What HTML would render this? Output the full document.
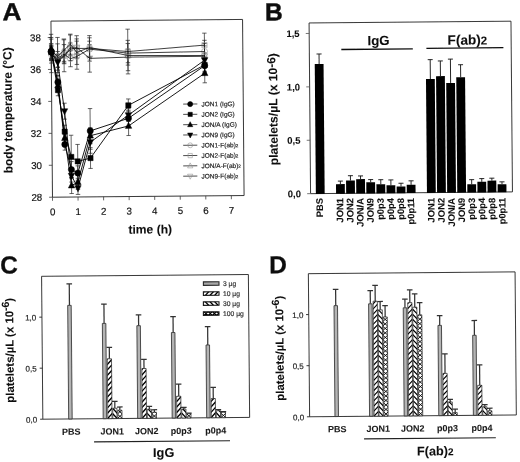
<!DOCTYPE html>
<html><head><meta charset="utf-8"><title>Figure</title>
<style>
html,body{margin:0;padding:0;background:#fff;}
body{width:520px;height:462px;overflow:hidden;}
svg{display:block;font-family:"Liberation Sans", sans-serif;}
</style></head>
<body>
<svg width="520" height="462" viewBox="0 0 520 462">
<rect x="0" y="0" width="520" height="462" fill="#fff"/>
<defs><filter id="soft" x="0" y="0" width="520" height="462" filterUnits="userSpaceOnUse"><feGaussianBlur stdDeviation="0.32"/></filter></defs>
<g filter="url(#soft)"><g transform="rotate(-0.5 260 231)">
<rect x="52.8" y="19.3" width="191.6" height="176.1" fill="none" stroke="#222" stroke-width="0.9"/>
<line x1="49.4" y1="195.4" x2="52.8" y2="195.4" stroke="#333" stroke-width="0.75" />
<text x="42.6" y="198.9" font-size="9.8" text-anchor="end" fill="#111"  stroke="#111" stroke-width="0.18">28</text>
<line x1="49.4" y1="163.46" x2="52.8" y2="163.46" stroke="#333" stroke-width="0.75" />
<text x="42.6" y="166.96" font-size="9.8" text-anchor="end" fill="#111"  stroke="#111" stroke-width="0.18">30</text>
<line x1="49.4" y1="131.52" x2="52.8" y2="131.52" stroke="#333" stroke-width="0.75" />
<text x="42.6" y="135.02" font-size="9.8" text-anchor="end" fill="#111"  stroke="#111" stroke-width="0.18">32</text>
<line x1="49.4" y1="99.58" x2="52.8" y2="99.58" stroke="#333" stroke-width="0.75" />
<text x="42.6" y="103.08" font-size="9.8" text-anchor="end" fill="#111"  stroke="#111" stroke-width="0.18">34</text>
<line x1="49.4" y1="67.64" x2="52.8" y2="67.64" stroke="#333" stroke-width="0.75" />
<text x="42.6" y="71.14" font-size="9.8" text-anchor="end" fill="#111"  stroke="#111" stroke-width="0.18">36</text>
<line x1="49.4" y1="35.7" x2="52.8" y2="35.7" stroke="#333" stroke-width="0.75" />
<text x="42.6" y="39.2" font-size="9.8" text-anchor="end" fill="#111"  stroke="#111" stroke-width="0.18">38</text>
<line x1="52.8" y1="195.4" x2="52.8" y2="199" stroke="#333" stroke-width="0.75" />
<text x="52.8" y="213.4" font-size="9.8" text-anchor="middle" fill="#111"  stroke="#111" stroke-width="0.18">0</text>
<line x1="78.35" y1="195.4" x2="78.35" y2="199" stroke="#333" stroke-width="0.75" />
<text x="78.35" y="213.4" font-size="9.8" text-anchor="middle" fill="#111"  stroke="#111" stroke-width="0.18">1</text>
<line x1="103.9" y1="195.4" x2="103.9" y2="199" stroke="#333" stroke-width="0.75" />
<text x="103.9" y="213.4" font-size="9.8" text-anchor="middle" fill="#111"  stroke="#111" stroke-width="0.18">2</text>
<line x1="129.45" y1="195.4" x2="129.45" y2="199" stroke="#333" stroke-width="0.75" />
<text x="129.45" y="213.4" font-size="9.8" text-anchor="middle" fill="#111"  stroke="#111" stroke-width="0.18">3</text>
<line x1="155" y1="195.4" x2="155" y2="199" stroke="#333" stroke-width="0.75" />
<text x="155" y="213.4" font-size="9.8" text-anchor="middle" fill="#111"  stroke="#111" stroke-width="0.18">4</text>
<line x1="180.55" y1="195.4" x2="180.55" y2="199" stroke="#333" stroke-width="0.75" />
<text x="180.55" y="213.4" font-size="9.8" text-anchor="middle" fill="#111"  stroke="#111" stroke-width="0.18">5</text>
<line x1="206.1" y1="195.4" x2="206.1" y2="199" stroke="#333" stroke-width="0.75" />
<text x="206.1" y="213.4" font-size="9.8" text-anchor="middle" fill="#111"  stroke="#111" stroke-width="0.18">6</text>
<line x1="231.65" y1="195.4" x2="231.65" y2="199" stroke="#333" stroke-width="0.75" />
<text x="231.65" y="213.4" font-size="9.8" text-anchor="middle" fill="#111"  stroke="#111" stroke-width="0.18">7</text>
<text x="150.28" y="232.54" font-size="12.1" font-weight="bold" text-anchor="middle" fill="#111"  stroke="#111" stroke-width="0.08">time (h)</text>
<text x="13.06" y="108.14" font-size="12.0" font-weight="bold" text-anchor="middle" fill="#111" transform="rotate(-90 13.06 108.14)"  stroke="#111" stroke-width="0.08">body temperature (°C)</text>
<text x="4.25" y="18.06" font-size="24.5" font-weight="bold" text-anchor="start" fill="#111" textLength="19" lengthAdjust="spacingAndGlyphs" stroke="#111" stroke-width="0.4">A</text>
<line x1="52.8" y1="58.06" x2="52.8" y2="42.09" stroke="#222" stroke-width="0.7" />
<line x1="50.6" y1="42.09" x2="55" y2="42.09" stroke="#222" stroke-width="0.7" />
<line x1="50.6" y1="58.06" x2="55" y2="58.06" stroke="#222" stroke-width="0.7" />
<line x1="59.19" y1="70.83" x2="59.19" y2="42.09" stroke="#222" stroke-width="0.7" />
<line x1="56.99" y1="42.09" x2="61.39" y2="42.09" stroke="#222" stroke-width="0.7" />
<line x1="56.99" y1="70.83" x2="61.39" y2="70.83" stroke="#222" stroke-width="0.7" />
<line x1="65.58" y1="62.05" x2="65.58" y2="42.89" stroke="#222" stroke-width="0.7" />
<line x1="63.38" y1="42.89" x2="67.78" y2="42.89" stroke="#222" stroke-width="0.7" />
<line x1="63.38" y1="62.05" x2="67.78" y2="62.05" stroke="#222" stroke-width="0.7" />
<line x1="71.96" y1="65.08" x2="71.96" y2="49.11" stroke="#222" stroke-width="0.7" />
<line x1="69.76" y1="49.11" x2="74.16" y2="49.11" stroke="#222" stroke-width="0.7" />
<line x1="69.76" y1="65.08" x2="74.16" y2="65.08" stroke="#222" stroke-width="0.7" />
<line x1="78.35" y1="62.85" x2="78.35" y2="46.88" stroke="#222" stroke-width="0.7" />
<line x1="76.15" y1="46.88" x2="80.55" y2="46.88" stroke="#222" stroke-width="0.7" />
<line x1="76.15" y1="62.85" x2="80.55" y2="62.85" stroke="#222" stroke-width="0.7" />
<line x1="91.12" y1="55.66" x2="91.12" y2="39.69" stroke="#222" stroke-width="0.7" />
<line x1="88.92" y1="39.69" x2="93.33" y2="39.69" stroke="#222" stroke-width="0.7" />
<line x1="88.92" y1="55.66" x2="93.33" y2="55.66" stroke="#222" stroke-width="0.7" />
<line x1="129.45" y1="61.57" x2="129.45" y2="42.41" stroke="#222" stroke-width="0.7" />
<line x1="127.25" y1="42.41" x2="131.65" y2="42.41" stroke="#222" stroke-width="0.7" />
<line x1="127.25" y1="61.57" x2="131.65" y2="61.57" stroke="#222" stroke-width="0.7" />
<line x1="206.1" y1="59.02" x2="206.1" y2="43.05" stroke="#222" stroke-width="0.7" />
<line x1="203.9" y1="43.05" x2="208.3" y2="43.05" stroke="#222" stroke-width="0.7" />
<line x1="203.9" y1="59.02" x2="208.3" y2="59.02" stroke="#222" stroke-width="0.7" />
<line x1="52.8" y1="70.83" x2="52.8" y2="32.51" stroke="#222" stroke-width="0.7" />
<line x1="50.6" y1="32.51" x2="55" y2="32.51" stroke="#222" stroke-width="0.7" />
<line x1="50.6" y1="70.83" x2="55" y2="70.83" stroke="#222" stroke-width="0.7" />
<line x1="59.19" y1="65.72" x2="59.19" y2="49.75" stroke="#222" stroke-width="0.7" />
<line x1="56.99" y1="49.75" x2="61.39" y2="49.75" stroke="#222" stroke-width="0.7" />
<line x1="56.99" y1="65.72" x2="61.39" y2="65.72" stroke="#222" stroke-width="0.7" />
<line x1="65.58" y1="70.04" x2="65.58" y2="38.1" stroke="#222" stroke-width="0.7" />
<line x1="63.38" y1="38.1" x2="67.78" y2="38.1" stroke="#222" stroke-width="0.7" />
<line x1="63.38" y1="70.04" x2="67.78" y2="70.04" stroke="#222" stroke-width="0.7" />
<line x1="71.96" y1="58.86" x2="71.96" y2="33.3" stroke="#222" stroke-width="0.7" />
<line x1="69.76" y1="33.3" x2="74.16" y2="33.3" stroke="#222" stroke-width="0.7" />
<line x1="69.76" y1="58.86" x2="74.16" y2="58.86" stroke="#222" stroke-width="0.7" />
<line x1="78.35" y1="56.46" x2="78.35" y2="37.3" stroke="#222" stroke-width="0.7" />
<line x1="76.15" y1="37.3" x2="80.55" y2="37.3" stroke="#222" stroke-width="0.7" />
<line x1="76.15" y1="56.46" x2="80.55" y2="56.46" stroke="#222" stroke-width="0.7" />
<line x1="91.12" y1="59.66" x2="91.12" y2="34.1" stroke="#222" stroke-width="0.7" />
<line x1="88.92" y1="34.1" x2="93.33" y2="34.1" stroke="#222" stroke-width="0.7" />
<line x1="88.92" y1="59.66" x2="93.33" y2="59.66" stroke="#222" stroke-width="0.7" />
<line x1="129.45" y1="72.75" x2="129.45" y2="28.03" stroke="#222" stroke-width="0.7" />
<line x1="127.25" y1="28.03" x2="131.65" y2="28.03" stroke="#222" stroke-width="0.7" />
<line x1="127.25" y1="72.75" x2="131.65" y2="72.75" stroke="#222" stroke-width="0.7" />
<line x1="206.1" y1="56.62" x2="206.1" y2="32.67" stroke="#222" stroke-width="0.7" />
<line x1="203.9" y1="32.67" x2="208.3" y2="32.67" stroke="#222" stroke-width="0.7" />
<line x1="203.9" y1="56.62" x2="208.3" y2="56.62" stroke="#222" stroke-width="0.7" />
<line x1="52.8" y1="61.25" x2="52.8" y2="35.7" stroke="#222" stroke-width="0.7" />
<line x1="50.6" y1="35.7" x2="55" y2="35.7" stroke="#222" stroke-width="0.7" />
<line x1="50.6" y1="61.25" x2="55" y2="61.25" stroke="#222" stroke-width="0.7" />
<line x1="59.19" y1="74.03" x2="59.19" y2="35.7" stroke="#222" stroke-width="0.7" />
<line x1="56.99" y1="35.7" x2="61.39" y2="35.7" stroke="#222" stroke-width="0.7" />
<line x1="56.99" y1="74.03" x2="61.39" y2="74.03" stroke="#222" stroke-width="0.7" />
<line x1="65.58" y1="59.66" x2="65.58" y2="37.3" stroke="#222" stroke-width="0.7" />
<line x1="63.38" y1="37.3" x2="67.78" y2="37.3" stroke="#222" stroke-width="0.7" />
<line x1="63.38" y1="59.66" x2="67.78" y2="59.66" stroke="#222" stroke-width="0.7" />
<line x1="71.96" y1="52.63" x2="71.96" y2="32.51" stroke="#222" stroke-width="0.7" />
<line x1="69.76" y1="32.51" x2="74.16" y2="32.51" stroke="#222" stroke-width="0.7" />
<line x1="69.76" y1="52.63" x2="74.16" y2="52.63" stroke="#222" stroke-width="0.7" />
<line x1="78.35" y1="67.64" x2="78.35" y2="34.1" stroke="#222" stroke-width="0.7" />
<line x1="76.15" y1="34.1" x2="80.55" y2="34.1" stroke="#222" stroke-width="0.7" />
<line x1="76.15" y1="67.64" x2="80.55" y2="67.64" stroke="#222" stroke-width="0.7" />
<line x1="91.12" y1="55.5" x2="91.12" y2="36.34" stroke="#222" stroke-width="0.7" />
<line x1="88.92" y1="36.34" x2="93.33" y2="36.34" stroke="#222" stroke-width="0.7" />
<line x1="88.92" y1="55.5" x2="93.33" y2="55.5" stroke="#222" stroke-width="0.7" />
<line x1="129.45" y1="69.56" x2="129.45" y2="39.21" stroke="#222" stroke-width="0.7" />
<line x1="127.25" y1="39.21" x2="131.65" y2="39.21" stroke="#222" stroke-width="0.7" />
<line x1="127.25" y1="69.56" x2="131.65" y2="69.56" stroke="#222" stroke-width="0.7" />
<line x1="206.1" y1="64.61" x2="206.1" y2="45.44" stroke="#222" stroke-width="0.7" />
<line x1="203.9" y1="45.44" x2="208.3" y2="45.44" stroke="#222" stroke-width="0.7" />
<line x1="203.9" y1="64.61" x2="208.3" y2="64.61" stroke="#222" stroke-width="0.7" />
<line x1="52.8" y1="58.06" x2="52.8" y2="45.28" stroke="#222" stroke-width="0.7" />
<line x1="50.6" y1="45.28" x2="55" y2="45.28" stroke="#222" stroke-width="0.7" />
<line x1="50.6" y1="58.06" x2="55" y2="58.06" stroke="#222" stroke-width="0.7" />
<line x1="59.19" y1="65.24" x2="59.19" y2="52.47" stroke="#222" stroke-width="0.7" />
<line x1="56.99" y1="52.47" x2="61.39" y2="52.47" stroke="#222" stroke-width="0.7" />
<line x1="56.99" y1="65.24" x2="61.39" y2="65.24" stroke="#222" stroke-width="0.7" />
<line x1="65.58" y1="61.25" x2="65.58" y2="48.48" stroke="#222" stroke-width="0.7" />
<line x1="63.38" y1="48.48" x2="67.78" y2="48.48" stroke="#222" stroke-width="0.7" />
<line x1="63.38" y1="61.25" x2="67.78" y2="61.25" stroke="#222" stroke-width="0.7" />
<line x1="71.96" y1="54.07" x2="71.96" y2="41.29" stroke="#222" stroke-width="0.7" />
<line x1="69.76" y1="41.29" x2="74.16" y2="41.29" stroke="#222" stroke-width="0.7" />
<line x1="69.76" y1="54.07" x2="74.16" y2="54.07" stroke="#222" stroke-width="0.7" />
<line x1="78.35" y1="52.31" x2="78.35" y2="39.53" stroke="#222" stroke-width="0.7" />
<line x1="76.15" y1="39.53" x2="80.55" y2="39.53" stroke="#222" stroke-width="0.7" />
<line x1="76.15" y1="52.31" x2="80.55" y2="52.31" stroke="#222" stroke-width="0.7" />
<line x1="91.12" y1="70.67" x2="91.12" y2="43.21" stroke="#222" stroke-width="0.7" />
<line x1="88.92" y1="43.21" x2="93.33" y2="43.21" stroke="#222" stroke-width="0.7" />
<line x1="88.92" y1="70.67" x2="93.33" y2="70.67" stroke="#222" stroke-width="0.7" />
<line x1="129.45" y1="63.97" x2="129.45" y2="48" stroke="#222" stroke-width="0.7" />
<line x1="127.25" y1="48" x2="131.65" y2="48" stroke="#222" stroke-width="0.7" />
<line x1="127.25" y1="63.97" x2="131.65" y2="63.97" stroke="#222" stroke-width="0.7" />
<line x1="206.1" y1="71.79" x2="206.1" y2="39.85" stroke="#222" stroke-width="0.7" />
<line x1="203.9" y1="39.85" x2="208.3" y2="39.85" stroke="#222" stroke-width="0.7" />
<line x1="203.9" y1="71.79" x2="208.3" y2="71.79" stroke="#222" stroke-width="0.7" />
<line x1="52.8" y1="56.46" x2="52.8" y2="43.69" stroke="#222" stroke-width="0.7" />
<line x1="50.6" y1="43.69" x2="55" y2="43.69" stroke="#222" stroke-width="0.7" />
<line x1="50.6" y1="56.46" x2="55" y2="56.46" stroke="#222" stroke-width="0.7" />
<line x1="59.19" y1="86.8" x2="59.19" y2="74.03" stroke="#222" stroke-width="0.7" />
<line x1="56.99" y1="74.03" x2="61.39" y2="74.03" stroke="#222" stroke-width="0.7" />
<line x1="56.99" y1="86.8" x2="61.39" y2="86.8" stroke="#222" stroke-width="0.7" />
<line x1="65.58" y1="148.45" x2="65.58" y2="136.95" stroke="#222" stroke-width="0.7" />
<line x1="63.38" y1="136.95" x2="67.78" y2="136.95" stroke="#222" stroke-width="0.7" />
<line x1="63.38" y1="148.45" x2="67.78" y2="148.45" stroke="#222" stroke-width="0.7" />
<line x1="71.96" y1="175.92" x2="71.96" y2="159.95" stroke="#222" stroke-width="0.7" />
<line x1="69.76" y1="159.95" x2="74.16" y2="159.95" stroke="#222" stroke-width="0.7" />
<line x1="69.76" y1="175.92" x2="74.16" y2="175.92" stroke="#222" stroke-width="0.7" />
<line x1="78.35" y1="178.63" x2="78.35" y2="164.26" stroke="#222" stroke-width="0.7" />
<line x1="76.15" y1="164.26" x2="80.55" y2="164.26" stroke="#222" stroke-width="0.7" />
<line x1="76.15" y1="178.63" x2="80.55" y2="178.63" stroke="#222" stroke-width="0.7" />
<line x1="91.12" y1="151.8" x2="91.12" y2="107.09" stroke="#222" stroke-width="0.7" />
<line x1="88.92" y1="107.09" x2="93.33" y2="107.09" stroke="#222" stroke-width="0.7" />
<line x1="88.92" y1="151.8" x2="93.33" y2="151.8" stroke="#222" stroke-width="0.7" />
<line x1="129.45" y1="125.13" x2="129.45" y2="109.16" stroke="#222" stroke-width="0.7" />
<line x1="127.25" y1="109.16" x2="131.65" y2="109.16" stroke="#222" stroke-width="0.7" />
<line x1="127.25" y1="125.13" x2="131.65" y2="125.13" stroke="#222" stroke-width="0.7" />
<line x1="206.1" y1="73.23" x2="206.1" y2="57.26" stroke="#222" stroke-width="0.7" />
<line x1="203.9" y1="57.26" x2="208.3" y2="57.26" stroke="#222" stroke-width="0.7" />
<line x1="203.9" y1="73.23" x2="208.3" y2="73.23" stroke="#222" stroke-width="0.7" />
<line x1="52.8" y1="58.06" x2="52.8" y2="42.09" stroke="#222" stroke-width="0.7" />
<line x1="50.6" y1="42.09" x2="55" y2="42.09" stroke="#222" stroke-width="0.7" />
<line x1="50.6" y1="58.06" x2="55" y2="58.06" stroke="#222" stroke-width="0.7" />
<line x1="59.19" y1="93.99" x2="59.19" y2="82.81" stroke="#222" stroke-width="0.7" />
<line x1="56.99" y1="82.81" x2="61.39" y2="82.81" stroke="#222" stroke-width="0.7" />
<line x1="56.99" y1="93.99" x2="61.39" y2="93.99" stroke="#222" stroke-width="0.7" />
<line x1="65.58" y1="136.31" x2="65.58" y2="123.53" stroke="#222" stroke-width="0.7" />
<line x1="63.38" y1="123.53" x2="67.78" y2="123.53" stroke="#222" stroke-width="0.7" />
<line x1="63.38" y1="136.31" x2="67.78" y2="136.31" stroke="#222" stroke-width="0.7" />
<line x1="71.96" y1="177.03" x2="71.96" y2="133.6" stroke="#222" stroke-width="0.7" />
<line x1="69.76" y1="133.6" x2="74.16" y2="133.6" stroke="#222" stroke-width="0.7" />
<line x1="69.76" y1="177.03" x2="74.16" y2="177.03" stroke="#222" stroke-width="0.7" />
<line x1="78.35" y1="176.72" x2="78.35" y2="142.86" stroke="#222" stroke-width="0.7" />
<line x1="76.15" y1="142.86" x2="80.55" y2="142.86" stroke="#222" stroke-width="0.7" />
<line x1="76.15" y1="176.72" x2="80.55" y2="176.72" stroke="#222" stroke-width="0.7" />
<line x1="91.12" y1="166.97" x2="91.12" y2="146.21" stroke="#222" stroke-width="0.7" />
<line x1="88.92" y1="146.21" x2="93.33" y2="146.21" stroke="#222" stroke-width="0.7" />
<line x1="88.92" y1="166.97" x2="93.33" y2="166.97" stroke="#222" stroke-width="0.7" />
<line x1="129.45" y1="110.6" x2="129.45" y2="97.82" stroke="#222" stroke-width="0.7" />
<line x1="127.25" y1="97.82" x2="131.65" y2="97.82" stroke="#222" stroke-width="0.7" />
<line x1="127.25" y1="110.6" x2="131.65" y2="110.6" stroke="#222" stroke-width="0.7" />
<line x1="206.1" y1="70.83" x2="206.1" y2="58.06" stroke="#222" stroke-width="0.7" />
<line x1="203.9" y1="58.06" x2="208.3" y2="58.06" stroke="#222" stroke-width="0.7" />
<line x1="203.9" y1="70.83" x2="208.3" y2="70.83" stroke="#222" stroke-width="0.7" />
<line x1="52.8" y1="56.46" x2="52.8" y2="37.3" stroke="#222" stroke-width="0.7" />
<line x1="50.6" y1="37.3" x2="55" y2="37.3" stroke="#222" stroke-width="0.7" />
<line x1="50.6" y1="56.46" x2="55" y2="56.46" stroke="#222" stroke-width="0.7" />
<line x1="59.19" y1="90" x2="59.19" y2="77.22" stroke="#222" stroke-width="0.7" />
<line x1="56.99" y1="77.22" x2="61.39" y2="77.22" stroke="#222" stroke-width="0.7" />
<line x1="56.99" y1="90" x2="61.39" y2="90" stroke="#222" stroke-width="0.7" />
<line x1="65.58" y1="144.3" x2="65.58" y2="128.33" stroke="#222" stroke-width="0.7" />
<line x1="63.38" y1="128.33" x2="67.78" y2="128.33" stroke="#222" stroke-width="0.7" />
<line x1="63.38" y1="144.3" x2="67.78" y2="144.3" stroke="#222" stroke-width="0.7" />
<line x1="71.96" y1="191.89" x2="71.96" y2="175.92" stroke="#222" stroke-width="0.7" />
<line x1="69.76" y1="175.92" x2="74.16" y2="175.92" stroke="#222" stroke-width="0.7" />
<line x1="69.76" y1="191.89" x2="74.16" y2="191.89" stroke="#222" stroke-width="0.7" />
<line x1="78.35" y1="187.73" x2="78.35" y2="173.36" stroke="#222" stroke-width="0.7" />
<line x1="76.15" y1="173.36" x2="80.55" y2="173.36" stroke="#222" stroke-width="0.7" />
<line x1="76.15" y1="187.73" x2="80.55" y2="187.73" stroke="#222" stroke-width="0.7" />
<line x1="91.12" y1="142.22" x2="91.12" y2="126.25" stroke="#222" stroke-width="0.7" />
<line x1="88.92" y1="126.25" x2="93.33" y2="126.25" stroke="#222" stroke-width="0.7" />
<line x1="88.92" y1="142.22" x2="93.33" y2="142.22" stroke="#222" stroke-width="0.7" />
<line x1="129.45" y1="134.39" x2="129.45" y2="115.23" stroke="#222" stroke-width="0.7" />
<line x1="127.25" y1="115.23" x2="131.65" y2="115.23" stroke="#222" stroke-width="0.7" />
<line x1="127.25" y1="134.39" x2="131.65" y2="134.39" stroke="#222" stroke-width="0.7" />
<line x1="206.1" y1="82.33" x2="206.1" y2="63.17" stroke="#222" stroke-width="0.7" />
<line x1="203.9" y1="63.17" x2="208.3" y2="63.17" stroke="#222" stroke-width="0.7" />
<line x1="203.9" y1="82.33" x2="208.3" y2="82.33" stroke="#222" stroke-width="0.7" />
<line x1="52.8" y1="58.86" x2="52.8" y2="44.48" stroke="#222" stroke-width="0.7" />
<line x1="50.6" y1="44.48" x2="55" y2="44.48" stroke="#222" stroke-width="0.7" />
<line x1="50.6" y1="58.86" x2="55" y2="58.86" stroke="#222" stroke-width="0.7" />
<line x1="59.19" y1="68.44" x2="59.19" y2="52.47" stroke="#222" stroke-width="0.7" />
<line x1="56.99" y1="52.47" x2="61.39" y2="52.47" stroke="#222" stroke-width="0.7" />
<line x1="56.99" y1="68.44" x2="61.39" y2="68.44" stroke="#222" stroke-width="0.7" />
<line x1="65.58" y1="117.47" x2="65.58" y2="101.5" stroke="#222" stroke-width="0.7" />
<line x1="63.38" y1="101.5" x2="67.78" y2="101.5" stroke="#222" stroke-width="0.7" />
<line x1="63.38" y1="117.47" x2="67.78" y2="117.47" stroke="#222" stroke-width="0.7" />
<line x1="71.96" y1="180.39" x2="71.96" y2="167.61" stroke="#222" stroke-width="0.7" />
<line x1="69.76" y1="167.61" x2="74.16" y2="167.61" stroke="#222" stroke-width="0.7" />
<line x1="69.76" y1="180.39" x2="74.16" y2="180.39" stroke="#222" stroke-width="0.7" />
<line x1="78.35" y1="192.84" x2="78.35" y2="180.07" stroke="#222" stroke-width="0.7" />
<line x1="76.15" y1="180.07" x2="80.55" y2="180.07" stroke="#222" stroke-width="0.7" />
<line x1="76.15" y1="192.84" x2="80.55" y2="192.84" stroke="#222" stroke-width="0.7" />
<line x1="91.12" y1="147.81" x2="91.12" y2="133.44" stroke="#222" stroke-width="0.7" />
<line x1="88.92" y1="133.44" x2="93.33" y2="133.44" stroke="#222" stroke-width="0.7" />
<line x1="88.92" y1="147.81" x2="93.33" y2="147.81" stroke="#222" stroke-width="0.7" />
<line x1="129.45" y1="120.34" x2="129.45" y2="107.56" stroke="#222" stroke-width="0.7" />
<line x1="127.25" y1="107.56" x2="131.65" y2="107.56" stroke="#222" stroke-width="0.7" />
<line x1="127.25" y1="120.34" x2="131.65" y2="120.34" stroke="#222" stroke-width="0.7" />
<line x1="206.1" y1="66.84" x2="206.1" y2="52.47" stroke="#222" stroke-width="0.7" />
<line x1="203.9" y1="52.47" x2="208.3" y2="52.47" stroke="#222" stroke-width="0.7" />
<line x1="203.9" y1="66.84" x2="208.3" y2="66.84" stroke="#222" stroke-width="0.7" />
<circle cx="52.8" cy="50.07" r="3" fill="none" stroke="#8a8a8a" stroke-width="0.55"/>
<circle cx="59.19" cy="56.46" r="3" fill="none" stroke="#8a8a8a" stroke-width="0.55"/>
<circle cx="65.58" cy="52.47" r="3" fill="none" stroke="#8a8a8a" stroke-width="0.55"/>
<circle cx="71.96" cy="57.1" r="3" fill="none" stroke="#8a8a8a" stroke-width="0.55"/>
<circle cx="78.35" cy="54.86" r="3" fill="none" stroke="#8a8a8a" stroke-width="0.55"/>
<circle cx="91.12" cy="47.68" r="3" fill="none" stroke="#8a8a8a" stroke-width="0.55"/>
<circle cx="129.45" cy="51.99" r="3" fill="none" stroke="#8a8a8a" stroke-width="0.55"/>
<circle cx="206.1" cy="51.03" r="3" fill="none" stroke="#8a8a8a" stroke-width="0.55"/>
<rect x="50.2" y="49.07" width="5.2" height="5.2" fill="none" stroke="#8a8a8a" stroke-width="0.55"/>
<rect x="56.59" y="55.14" width="5.2" height="5.2" fill="none" stroke="#8a8a8a" stroke-width="0.55"/>
<rect x="62.98" y="51.47" width="5.2" height="5.2" fill="none" stroke="#8a8a8a" stroke-width="0.55"/>
<rect x="69.36" y="43.48" width="5.2" height="5.2" fill="none" stroke="#8a8a8a" stroke-width="0.55"/>
<rect x="75.75" y="44.28" width="5.2" height="5.2" fill="none" stroke="#8a8a8a" stroke-width="0.55"/>
<rect x="88.53" y="44.28" width="5.2" height="5.2" fill="none" stroke="#8a8a8a" stroke-width="0.55"/>
<rect x="126.85" y="47.79" width="5.2" height="5.2" fill="none" stroke="#8a8a8a" stroke-width="0.55"/>
<rect x="203.5" y="42.04" width="5.2" height="5.2" fill="none" stroke="#8a8a8a" stroke-width="0.55"/>
<polygon points="52.8,44.8 56,50.88 49.6,50.88" fill="none" stroke="#8a8a8a" stroke-width="0.55"/>
<polygon points="59.19,51.18 62.39,57.26 55.99,57.26" fill="none" stroke="#8a8a8a" stroke-width="0.55"/>
<polygon points="65.58,44.8 68.78,50.88 62.38,50.88" fill="none" stroke="#8a8a8a" stroke-width="0.55"/>
<polygon points="71.96,38.89 75.16,44.97 68.76,44.97" fill="none" stroke="#8a8a8a" stroke-width="0.55"/>
<polygon points="78.35,47.19 81.55,53.27 75.15,53.27" fill="none" stroke="#8a8a8a" stroke-width="0.55"/>
<polygon points="91.12,42.24 94.33,48.32 87.92,48.32" fill="none" stroke="#8a8a8a" stroke-width="0.55"/>
<polygon points="129.45,50.7 132.65,56.78 126.25,56.78" fill="none" stroke="#8a8a8a" stroke-width="0.55"/>
<polygon points="206.1,51.34 209.3,57.42 202.9,57.42" fill="none" stroke="#8a8a8a" stroke-width="0.55"/>
<polygon points="52.8,55.35 56,49.27 49.6,49.27" fill="none" stroke="#8a8a8a" stroke-width="0.55"/>
<polygon points="59.19,62.54 62.39,56.46 55.99,56.46" fill="none" stroke="#8a8a8a" stroke-width="0.55"/>
<polygon points="65.58,58.54 68.78,52.46 62.38,52.46" fill="none" stroke="#8a8a8a" stroke-width="0.55"/>
<polygon points="71.96,51.36 75.16,45.28 68.76,45.28" fill="none" stroke="#8a8a8a" stroke-width="0.55"/>
<polygon points="78.35,49.6 81.55,43.52 75.15,43.52" fill="none" stroke="#8a8a8a" stroke-width="0.55"/>
<polygon points="91.12,60.62 94.33,54.54 87.92,54.54" fill="none" stroke="#8a8a8a" stroke-width="0.55"/>
<polygon points="129.45,59.66 132.65,53.58 126.25,53.58" fill="none" stroke="#8a8a8a" stroke-width="0.55"/>
<polygon points="206.1,59.5 209.3,53.42 202.9,53.42" fill="none" stroke="#8a8a8a" stroke-width="0.55"/>
<polyline points="52.8,50.07 59.19,56.46 65.58,52.47 71.96,57.1 78.35,54.86 91.12,47.68 129.45,51.99 206.1,51.03" fill="none" stroke="#111" stroke-width="0.8" stroke-linejoin="round"/>
<polyline points="52.8,51.67 59.19,57.74 65.58,54.07 71.96,46.08 78.35,46.88 91.12,46.88 129.45,50.39 206.1,44.64" fill="none" stroke="#111" stroke-width="0.8" stroke-linejoin="round"/>
<polyline points="52.8,48.48 59.19,54.86 65.58,48.48 71.96,42.57 78.35,50.87 91.12,45.92 129.45,54.38 206.1,55.02" fill="none" stroke="#111" stroke-width="0.8" stroke-linejoin="round"/>
<polyline points="52.8,51.67 59.19,58.86 65.58,54.86 71.96,47.68 78.35,45.92 91.12,56.94 129.45,55.98 206.1,55.82" fill="none" stroke="#111" stroke-width="0.8" stroke-linejoin="round"/>
<polyline points="52.8,50.07 59.19,80.42 65.58,142.7 71.96,167.93 78.35,171.44 91.12,129.44 129.45,117.15 206.1,65.24" fill="none" stroke="#000" stroke-width="0.9" stroke-linejoin="round"/>
<polyline points="52.8,50.07 59.19,88.4 65.58,129.92 71.96,155.32 78.35,159.79 91.12,156.59 129.45,104.21 206.1,64.45" fill="none" stroke="#000" stroke-width="0.9" stroke-linejoin="round"/>
<polyline points="52.8,46.88 59.19,83.61 65.58,136.31 71.96,183.9 78.35,180.55 91.12,134.23 129.45,124.81 206.1,72.75" fill="none" stroke="#000" stroke-width="0.9" stroke-linejoin="round"/>
<polyline points="52.8,51.67 59.19,60.45 65.58,109.48 71.96,174 78.35,186.46 91.12,140.62 129.45,113.95 206.1,59.66" fill="none" stroke="#000" stroke-width="0.9" stroke-linejoin="round"/>
<circle cx="52.8" cy="50.07" r="3.1" fill="#000" stroke="#000" stroke-width="0.5"/>
<circle cx="59.19" cy="80.42" r="3.1" fill="#000" stroke="#000" stroke-width="0.5"/>
<circle cx="65.58" cy="142.7" r="3.1" fill="#000" stroke="#000" stroke-width="0.5"/>
<circle cx="71.96" cy="167.93" r="3.1" fill="#000" stroke="#000" stroke-width="0.5"/>
<circle cx="78.35" cy="171.44" r="3.1" fill="#000" stroke="#000" stroke-width="0.5"/>
<circle cx="91.12" cy="129.44" r="3.1" fill="#000" stroke="#000" stroke-width="0.5"/>
<circle cx="129.45" cy="117.15" r="3.1" fill="#000" stroke="#000" stroke-width="0.5"/>
<circle cx="206.1" cy="65.24" r="3.1" fill="#000" stroke="#000" stroke-width="0.5"/>
<rect x="50.2" y="47.47" width="5.2" height="5.2" fill="#000" stroke="#000" stroke-width="0.5"/>
<rect x="56.59" y="85.8" width="5.2" height="5.2" fill="#000" stroke="#000" stroke-width="0.5"/>
<rect x="62.98" y="127.32" width="5.2" height="5.2" fill="#000" stroke="#000" stroke-width="0.5"/>
<rect x="69.36" y="152.72" width="5.2" height="5.2" fill="#000" stroke="#000" stroke-width="0.5"/>
<rect x="75.75" y="157.19" width="5.2" height="5.2" fill="#000" stroke="#000" stroke-width="0.5"/>
<rect x="88.53" y="153.99" width="5.2" height="5.2" fill="#000" stroke="#000" stroke-width="0.5"/>
<rect x="126.85" y="101.61" width="5.2" height="5.2" fill="#000" stroke="#000" stroke-width="0.5"/>
<rect x="203.5" y="61.85" width="5.2" height="5.2" fill="#000" stroke="#000" stroke-width="0.5"/>
<polygon points="52.8,43.2 56,49.28 49.6,49.28" fill="#000" stroke="#000" stroke-width="0.5"/>
<polygon points="59.19,79.93 62.39,86.01 55.99,86.01" fill="#000" stroke="#000" stroke-width="0.5"/>
<polygon points="65.58,132.63 68.78,138.71 62.38,138.71" fill="#000" stroke="#000" stroke-width="0.5"/>
<polygon points="71.96,180.22 75.16,186.3 68.76,186.3" fill="#000" stroke="#000" stroke-width="0.5"/>
<polygon points="78.35,176.87 81.55,182.95 75.15,182.95" fill="#000" stroke="#000" stroke-width="0.5"/>
<polygon points="91.12,130.55 94.33,136.63 87.92,136.63" fill="#000" stroke="#000" stroke-width="0.5"/>
<polygon points="129.45,121.13 132.65,127.21 126.25,127.21" fill="#000" stroke="#000" stroke-width="0.5"/>
<polygon points="206.1,69.07 209.3,75.15 202.9,75.15" fill="#000" stroke="#000" stroke-width="0.5"/>
<polygon points="52.8,55.35 56,49.27 49.6,49.27" fill="#000" stroke="#000" stroke-width="0.5"/>
<polygon points="59.19,64.13 62.39,58.05 55.99,58.05" fill="#000" stroke="#000" stroke-width="0.5"/>
<polygon points="65.58,113.16 68.78,107.08 62.38,107.08" fill="#000" stroke="#000" stroke-width="0.5"/>
<polygon points="71.96,177.68 75.16,171.6 68.76,171.6" fill="#000" stroke="#000" stroke-width="0.5"/>
<polygon points="78.35,190.14 81.55,184.06 75.15,184.06" fill="#000" stroke="#000" stroke-width="0.5"/>
<polygon points="91.12,144.3 94.33,138.22 87.92,138.22" fill="#000" stroke="#000" stroke-width="0.5"/>
<polygon points="129.45,117.63 132.65,111.55 126.25,111.55" fill="#000" stroke="#000" stroke-width="0.5"/>
<polygon points="206.1,63.34 209.3,57.26 202.9,57.26" fill="#000" stroke="#000" stroke-width="0.5"/>
<line x1="184.31" y1="103.43" x2="198.41" y2="103.43" stroke="#222" stroke-width="0.8" />
<circle cx="191.31" cy="103.5" r="2.54" fill="#000" stroke="#000" stroke-width="0.5"/>
<text x="202.59" y="105.89" font-size="6.5" text-anchor="start" fill="#222"  stroke="#222" stroke-width="0.18">JON1 (IgG)</text>
<line x1="184.22" y1="113.73" x2="198.32" y2="113.73" stroke="#222" stroke-width="0.8" />
<rect x="189.09" y="111.67" width="4.26" height="4.26" fill="#000" stroke="#000" stroke-width="0.5"/>
<text x="202.5" y="116.19" font-size="6.5" text-anchor="start" fill="#222"  stroke="#222" stroke-width="0.18">JON2 (IgG)</text>
<line x1="184.13" y1="124.03" x2="198.23" y2="124.03" stroke="#222" stroke-width="0.8" />
<polygon points="191.13,121.07 193.75,126.06 188.51,126.06" fill="#000" stroke="#000" stroke-width="0.5"/>
<text x="202.41" y="126.49" font-size="6.5" text-anchor="start" fill="#222"  stroke="#222" stroke-width="0.18">JON/A (IgG)</text>
<line x1="184.04" y1="134.33" x2="198.14" y2="134.33" stroke="#222" stroke-width="0.8" />
<polygon points="191.04,137.41 193.66,132.42 188.42,132.42" fill="#000" stroke="#000" stroke-width="0.5"/>
<text x="202.32" y="136.79" font-size="6.5" text-anchor="start" fill="#222"  stroke="#222" stroke-width="0.18">JON9 (IgG)</text>
<line x1="183.95" y1="144.63" x2="198.05" y2="144.63" stroke="#222" stroke-width="0.8" />
<circle cx="190.95" cy="144.69" r="2.46" fill="none" stroke="#8a8a8a" stroke-width="0.55"/>
<text x="202.23" y="147.09" font-size="6.5" text-anchor="start" fill="#222"  stroke="#222" stroke-width="0.18">JON1-F(ab)<tspan font-size="4.6">2</tspan></text>
<line x1="183.86" y1="154.93" x2="197.96" y2="154.93" stroke="#222" stroke-width="0.8" />
<rect x="188.73" y="152.86" width="4.26" height="4.26" fill="none" stroke="#8a8a8a" stroke-width="0.55"/>
<text x="202.14" y="157.39" font-size="6.5" text-anchor="start" fill="#222"  stroke="#222" stroke-width="0.18">JON2-F(ab)<tspan font-size="4.6">2</tspan></text>
<line x1="183.77" y1="165.23" x2="197.87" y2="165.23" stroke="#222" stroke-width="0.8" />
<polygon points="190.77,162.27 193.39,167.26 188.15,167.26" fill="none" stroke="#8a8a8a" stroke-width="0.55"/>
<text x="202.05" y="167.69" font-size="6.5" text-anchor="start" fill="#222"  stroke="#222" stroke-width="0.18">JON/A-F(ab)<tspan font-size="4.6">2</tspan></text>
<line x1="183.68" y1="175.53" x2="197.78" y2="175.53" stroke="#222" stroke-width="0.8" />
<polygon points="190.68,178.61 193.3,173.62 188.06,173.62" fill="none" stroke="#8a8a8a" stroke-width="0.55"/>
<text x="201.96" y="177.99" font-size="6.5" text-anchor="start" fill="#222"  stroke="#222" stroke-width="0.18">JON9-F(ab)<tspan font-size="4.6">2</tspan></text>
<rect x="310.9" y="23.4" width="201.9" height="170.7" fill="none" stroke="#222" stroke-width="0.9"/>
<line x1="307.5" y1="194.1" x2="310.9" y2="194.1" stroke="#555" stroke-width="0.8" />
<text x="301.3" y="197.5" font-size="9.5" font-weight="bold" text-anchor="end" fill="#111"  stroke="#111" stroke-width="0.08">0,0</text>
<line x1="307.5" y1="140.7" x2="310.9" y2="140.7" stroke="#555" stroke-width="0.8" />
<text x="301.3" y="144.1" font-size="9.5" font-weight="bold" text-anchor="end" fill="#111"  stroke="#111" stroke-width="0.08">0,5</text>
<line x1="307.5" y1="87.3" x2="310.9" y2="87.3" stroke="#555" stroke-width="0.8" />
<text x="301.3" y="90.7" font-size="9.5" font-weight="bold" text-anchor="end" fill="#111"  stroke="#111" stroke-width="0.08">1,0</text>
<line x1="307.5" y1="33.9" x2="310.9" y2="33.9" stroke="#555" stroke-width="0.8" />
<text x="301.3" y="37.3" font-size="9.5" font-weight="bold" text-anchor="end" fill="#111"  stroke="#111" stroke-width="0.08">1,5</text>
<line x1="320.6" y1="64.55" x2="320.6" y2="54.51" stroke="#111" stroke-width="0.9" />
<line x1="318.1" y1="54.51" x2="323.1" y2="54.51" stroke="#111" stroke-width="0.9" />
<rect x="316.2" y="64.55" width="8.8" height="129.85" fill="#000"/>
<text x="323.1" y="198.6" font-size="9.4" font-weight="bold" text-anchor="end" fill="#111" transform="rotate(-90 323.1 198.6)"  stroke="#111" stroke-width="0.08">PBS</text>
<line x1="340.8" y1="184.81" x2="340.8" y2="181.82" stroke="#111" stroke-width="0.9" />
<line x1="338.3" y1="181.82" x2="343.3" y2="181.82" stroke="#111" stroke-width="0.9" />
<rect x="336.4" y="184.81" width="8.8" height="9.59" fill="#000"/>
<text x="343.38" y="198.75" font-size="9.4" font-weight="bold" text-anchor="end" fill="#111" transform="rotate(-90 343.38 198.75)"  stroke="#111" stroke-width="0.08">JON1</text>
<line x1="350.9" y1="181.28" x2="350.9" y2="176.48" stroke="#111" stroke-width="0.9" />
<line x1="348.4" y1="176.48" x2="353.4" y2="176.48" stroke="#111" stroke-width="0.9" />
<rect x="346.5" y="181.28" width="8.8" height="13.12" fill="#000"/>
<text x="353.52" y="198.82" font-size="9.4" font-weight="bold" text-anchor="end" fill="#111" transform="rotate(-90 353.52 198.82)"  stroke="#111" stroke-width="0.08">JON2</text>
<line x1="361" y1="180" x2="361" y2="176.8" stroke="#111" stroke-width="0.9" />
<line x1="358.5" y1="176.8" x2="363.5" y2="176.8" stroke="#111" stroke-width="0.9" />
<rect x="356.6" y="180" width="8.8" height="14.4" fill="#000"/>
<text x="363.66" y="198.9" font-size="9.4" font-weight="bold" text-anchor="end" fill="#111" transform="rotate(-90 363.66 198.9)"  stroke="#111" stroke-width="0.08">JON/A</text>
<line x1="371.1" y1="183.21" x2="371.1" y2="180.54" stroke="#111" stroke-width="0.9" />
<line x1="368.6" y1="180.54" x2="373.6" y2="180.54" stroke="#111" stroke-width="0.9" />
<rect x="366.7" y="183.21" width="8.8" height="11.19" fill="#000"/>
<text x="373.8" y="198.97" font-size="9.4" font-weight="bold" text-anchor="end" fill="#111" transform="rotate(-90 373.8 198.97)"  stroke="#111" stroke-width="0.08">JON9</text>
<line x1="381.2" y1="185.34" x2="381.2" y2="180.75" stroke="#111" stroke-width="0.9" />
<line x1="378.7" y1="180.75" x2="383.7" y2="180.75" stroke="#111" stroke-width="0.9" />
<rect x="376.8" y="185.34" width="8.8" height="9.06" fill="#000"/>
<text x="383.94" y="199.04" font-size="9.4" font-weight="bold" text-anchor="end" fill="#111" transform="rotate(-90 383.94 199.04)"  stroke="#111" stroke-width="0.08">p0p3</text>
<line x1="391.3" y1="186.41" x2="391.3" y2="181.07" stroke="#111" stroke-width="0.9" />
<line x1="388.8" y1="181.07" x2="393.8" y2="181.07" stroke="#111" stroke-width="0.9" />
<rect x="386.9" y="186.41" width="8.8" height="7.99" fill="#000"/>
<text x="394.09" y="199.11" font-size="9.4" font-weight="bold" text-anchor="end" fill="#111" transform="rotate(-90 394.09 199.11)"  stroke="#111" stroke-width="0.08">p0p4</text>
<line x1="401.4" y1="187.69" x2="401.4" y2="184.49" stroke="#111" stroke-width="0.9" />
<line x1="398.9" y1="184.49" x2="403.9" y2="184.49" stroke="#111" stroke-width="0.9" />
<rect x="397" y="187.69" width="8.8" height="6.71" fill="#000"/>
<text x="404.23" y="199.19" font-size="9.4" font-weight="bold" text-anchor="end" fill="#111" transform="rotate(-90 404.23 199.19)"  stroke="#111" stroke-width="0.08">p0p8</text>
<line x1="411.5" y1="186.09" x2="411.5" y2="182.14" stroke="#111" stroke-width="0.9" />
<line x1="409" y1="182.14" x2="414" y2="182.14" stroke="#111" stroke-width="0.9" />
<rect x="407.1" y="186.09" width="8.8" height="8.31" fill="#000"/>
<text x="414.37" y="199.26" font-size="9.4" font-weight="bold" text-anchor="end" fill="#111" transform="rotate(-90 414.37 199.26)"  stroke="#111" stroke-width="0.08">p0p11</text>
<line x1="431.7" y1="80.57" x2="431.7" y2="61.13" stroke="#111" stroke-width="0.9" />
<line x1="429.2" y1="61.13" x2="434.2" y2="61.13" stroke="#111" stroke-width="0.9" />
<rect x="427.3" y="80.57" width="8.8" height="113.83" fill="#000"/>
<text x="434.65" y="199.4" font-size="9.4" font-weight="bold" text-anchor="end" fill="#111" transform="rotate(-90 434.65 199.4)"  stroke="#111" stroke-width="0.08">JON1</text>
<line x1="441.8" y1="77.69" x2="441.8" y2="62.52" stroke="#111" stroke-width="0.9" />
<line x1="439.3" y1="62.52" x2="444.3" y2="62.52" stroke="#111" stroke-width="0.9" />
<rect x="437.4" y="77.69" width="8.8" height="116.71" fill="#000"/>
<text x="444.79" y="199.48" font-size="9.4" font-weight="bold" text-anchor="end" fill="#111" transform="rotate(-90 444.79 199.48)"  stroke="#111" stroke-width="0.08">JON2</text>
<line x1="451.9" y1="84.63" x2="451.9" y2="60.81" stroke="#111" stroke-width="0.9" />
<line x1="449.4" y1="60.81" x2="454.4" y2="60.81" stroke="#111" stroke-width="0.9" />
<rect x="447.5" y="84.63" width="8.8" height="109.77" fill="#000"/>
<text x="454.93" y="199.55" font-size="9.4" font-weight="bold" text-anchor="end" fill="#111" transform="rotate(-90 454.93 199.55)"  stroke="#111" stroke-width="0.08">JON/A</text>
<line x1="462" y1="78.97" x2="462" y2="66.47" stroke="#111" stroke-width="0.9" />
<line x1="459.5" y1="66.47" x2="464.5" y2="66.47" stroke="#111" stroke-width="0.9" />
<rect x="457.6" y="78.97" width="8.8" height="115.43" fill="#000"/>
<text x="465.07" y="199.62" font-size="9.4" font-weight="bold" text-anchor="end" fill="#111" transform="rotate(-90 465.07 199.62)"  stroke="#111" stroke-width="0.08">JON9</text>
<line x1="472.1" y1="186.09" x2="472.1" y2="181.5" stroke="#111" stroke-width="0.9" />
<line x1="469.6" y1="181.5" x2="474.6" y2="181.5" stroke="#111" stroke-width="0.9" />
<rect x="467.7" y="186.09" width="8.8" height="8.31" fill="#000"/>
<text x="475.21" y="199.7" font-size="9.4" font-weight="bold" text-anchor="end" fill="#111" transform="rotate(-90 475.21 199.7)"  stroke="#111" stroke-width="0.08">p0p3</text>
<line x1="482.2" y1="183.74" x2="482.2" y2="180.54" stroke="#111" stroke-width="0.9" />
<line x1="479.7" y1="180.54" x2="484.7" y2="180.54" stroke="#111" stroke-width="0.9" />
<rect x="477.8" y="183.74" width="8.8" height="10.66" fill="#000"/>
<text x="485.35" y="199.77" font-size="9.4" font-weight="bold" text-anchor="end" fill="#111" transform="rotate(-90 485.35 199.77)"  stroke="#111" stroke-width="0.08">p0p4</text>
<line x1="492.3" y1="182.67" x2="492.3" y2="180.22" stroke="#111" stroke-width="0.9" />
<line x1="489.8" y1="180.22" x2="494.8" y2="180.22" stroke="#111" stroke-width="0.9" />
<rect x="487.9" y="182.67" width="8.8" height="11.73" fill="#000"/>
<text x="495.49" y="199.84" font-size="9.4" font-weight="bold" text-anchor="end" fill="#111" transform="rotate(-90 495.49 199.84)"  stroke="#111" stroke-width="0.08">p0p8</text>
<line x1="502.4" y1="186.3" x2="502.4" y2="183.95" stroke="#111" stroke-width="0.9" />
<line x1="499.9" y1="183.95" x2="504.9" y2="183.95" stroke="#111" stroke-width="0.9" />
<rect x="498" y="186.3" width="8.8" height="8.1" fill="#000"/>
<text x="505.63" y="199.91" font-size="9.4" font-weight="bold" text-anchor="end" fill="#111" transform="rotate(-90 505.63 199.91)"  stroke="#111" stroke-width="0.08">p0p11</text>
<text x="380.22" y="46.14" font-size="13.3" font-weight="bold" text-anchor="middle" fill="#111"  stroke="#111" stroke-width="0.08">IgG</text>
<line x1="342.88" y1="50.23" x2="414.38" y2="50.23" stroke="#111" stroke-width="1.3" />
<text x="449.22" y="46.44" font-size="13.6" font-weight="bold" text-anchor="start" fill="#111"  stroke="#111" stroke-width="0.08">F(ab)<tspan font-size="11.5">2</tspan></text>
<line x1="427.99" y1="49.74" x2="504.99" y2="49.74" stroke="#111" stroke-width="1.3" />
<text x="278.46" y="109.36" font-size="12.1" font-weight="bold" text-anchor="middle" fill="#111" transform="rotate(-90 278.46 109.36)"  stroke="#111" stroke-width="0.08">platelets/µL (x 10<tspan font-size="11.8" dy="-1.7">-6</tspan><tspan dy="1.7">)</tspan></text>
<text x="266.84" y="20.45" font-size="24.6" font-weight="bold" text-anchor="start" fill="#111" stroke="#111" stroke-width="0.45">B</text>
<rect x="41.2" y="274.4" width="206.8" height="142.9" fill="none" stroke="#222" stroke-width="0.9"/>
<line x1="38.5" y1="417.3" x2="41.2" y2="417.3" stroke="#222" stroke-width="0.9" />
<text x="35.5" y="420.6" font-size="8.0" text-anchor="end" fill="#222"  stroke="#222" stroke-width="0.18">0,0</text>
<line x1="38.5" y1="366.26" x2="41.2" y2="366.26" stroke="#222" stroke-width="0.9" />
<text x="35.5" y="369.56" font-size="8.0" text-anchor="end" fill="#222"  stroke="#222" stroke-width="0.18">0,5</text>
<line x1="38.5" y1="315.23" x2="41.2" y2="315.23" stroke="#222" stroke-width="0.9" />
<text x="35.5" y="318.53" font-size="8.0" text-anchor="end" fill="#222"  stroke="#222" stroke-width="0.18">1,0</text>
<line x1="68.8" y1="303.7" x2="68.8" y2="282.26" stroke="#333" stroke-width="1.25" />
<line x1="66" y1="282.26" x2="71.6" y2="282.26" stroke="#333" stroke-width="1.25" />
<rect x="67.05" y="303.7" width="3.5" height="113.6" fill="#b4b4b4" stroke="#333" stroke-width="0.85"/>
<text x="69.4" y="433.2" font-size="9.0" font-weight="bold" text-anchor="middle" fill="#1a1a1a"  stroke="#1a1a1a" stroke-width="0.08">PBS</text>
<line x1="103.3" y1="322.07" x2="103.3" y2="302.68" stroke="#333" stroke-width="1.25" />
<line x1="100.5" y1="302.68" x2="106.1" y2="302.68" stroke="#333" stroke-width="1.25" />
<line x1="108.3" y1="357.49" x2="108.3" y2="346.06" stroke="#333" stroke-width="1.25" />
<line x1="105.5" y1="346.06" x2="111.1" y2="346.06" stroke="#333" stroke-width="1.25" />
<line x1="113.3" y1="406.99" x2="113.3" y2="400.15" stroke="#333" stroke-width="1.25" />
<line x1="110.5" y1="400.15" x2="116.1" y2="400.15" stroke="#333" stroke-width="1.25" />
<line x1="118.3" y1="409.03" x2="118.3" y2="405.77" stroke="#333" stroke-width="1.25" />
<line x1="115.5" y1="405.77" x2="121.1" y2="405.77" stroke="#333" stroke-width="1.25" />
<rect x="101.55" y="322.07" width="3.5" height="95.23" fill="#b4b4b4" stroke="#333" stroke-width="0.85"/>
<clipPath id="k1"><rect x="106.2" y="357.49" width="4.2" height="59.81"/></clipPath>
<rect x="106.2" y="357.49" width="4.2" height="59.81" fill="#fff"/>
<path d="M105.7 423L110.9 417.3M105.7 417.6L110.9 411.9M105.7 412.2L110.9 406.5M105.7 406.8L110.9 401.1M105.7 401.4L110.9 395.7M105.7 396L110.9 390.3M105.7 390.6L110.9 384.9M105.7 385.2L110.9 379.5M105.7 379.8L110.9 374.1M105.7 374.4L110.9 368.7M105.7 369L110.9 363.3M105.7 363.6L110.9 357.9M105.7 358.2L110.9 352.5M105.7 352.8L110.9 347.1" stroke="#000" stroke-width="1.35" fill="none" clip-path="url(#k1)"/>
<rect x="106.2" y="357.49" width="4.2" height="59.81" fill="none" stroke="#1a1a1a" stroke-width="0.7"/>
<clipPath id="k2"><rect x="111.2" y="406.99" width="4.2" height="10.31"/></clipPath>
<rect x="111.2" y="406.99" width="4.2" height="10.31" fill="#fff"/>
<path d="M110.7 417.3L115.9 423M110.7 411.9L115.9 417.6M110.7 406.5L115.9 412.2M110.7 401.1L115.9 406.8M110.7 395.7L115.9 401.4" stroke="#000" stroke-width="1.35" fill="none" clip-path="url(#k2)"/>
<rect x="111.2" y="406.99" width="4.2" height="10.31" fill="none" stroke="#1a1a1a" stroke-width="0.7"/>
<clipPath id="k3"><rect x="116.2" y="409.03" width="4.2" height="8.27"/></clipPath>
<rect x="116.2" y="409.03" width="4.2" height="8.27" fill="#fff"/>
<path d="M115.7 421.9L120.9 417.3M115.7 417.3L120.9 421.9M115.7 417.4L120.9 412.8M115.7 412.8L120.9 417.4M115.7 412.9L120.9 408.3M115.7 408.3L120.9 412.9M115.7 408.4L120.9 403.8M115.7 403.8L120.9 408.4" stroke="#000" stroke-width="0.9" fill="none" clip-path="url(#k3)"/>
<rect x="116.2" y="409.03" width="4.2" height="8.27" fill="none" stroke="#1a1a1a" stroke-width="0.7"/>
<text x="110.5" y="433.2" font-size="9.0" font-weight="bold" text-anchor="middle" fill="#1a1a1a"  stroke="#1a1a1a" stroke-width="0.08">JON1</text>
<line x1="137.8" y1="324.62" x2="137.8" y2="313.9" stroke="#333" stroke-width="1.25" />
<line x1="135" y1="313.9" x2="140.6" y2="313.9" stroke="#333" stroke-width="1.25" />
<line x1="142.8" y1="367.49" x2="142.8" y2="358.3" stroke="#333" stroke-width="1.25" />
<line x1="140" y1="358.3" x2="145.6" y2="358.3" stroke="#333" stroke-width="1.25" />
<line x1="147.8" y1="408.32" x2="147.8" y2="405.46" stroke="#333" stroke-width="1.25" />
<line x1="145" y1="405.46" x2="150.6" y2="405.46" stroke="#333" stroke-width="1.25" />
<line x1="152.8" y1="411.38" x2="152.8" y2="408.83" stroke="#333" stroke-width="1.25" />
<line x1="150" y1="408.83" x2="155.6" y2="408.83" stroke="#333" stroke-width="1.25" />
<rect x="136.05" y="324.62" width="3.5" height="92.68" fill="#b4b4b4" stroke="#333" stroke-width="0.85"/>
<clipPath id="k4"><rect x="140.7" y="367.49" width="4.2" height="49.81"/></clipPath>
<rect x="140.7" y="367.49" width="4.2" height="49.81" fill="#fff"/>
<path d="M140.2 423L145.4 417.3M140.2 417.6L145.4 411.9M140.2 412.2L145.4 406.5M140.2 406.8L145.4 401.1M140.2 401.4L145.4 395.7M140.2 396L145.4 390.3M140.2 390.6L145.4 384.9M140.2 385.2L145.4 379.5M140.2 379.8L145.4 374.1M140.2 374.4L145.4 368.7M140.2 369L145.4 363.3M140.2 363.6L145.4 357.9" stroke="#000" stroke-width="1.35" fill="none" clip-path="url(#k4)"/>
<rect x="140.7" y="367.49" width="4.2" height="49.81" fill="none" stroke="#1a1a1a" stroke-width="0.7"/>
<clipPath id="k5"><rect x="145.7" y="408.32" width="4.2" height="8.98"/></clipPath>
<rect x="145.7" y="408.32" width="4.2" height="8.98" fill="#fff"/>
<path d="M145.2 417.3L150.4 423M145.2 411.9L150.4 417.6M145.2 406.5L150.4 412.2M145.2 401.1L150.4 406.8" stroke="#000" stroke-width="1.35" fill="none" clip-path="url(#k5)"/>
<rect x="145.7" y="408.32" width="4.2" height="8.98" fill="none" stroke="#1a1a1a" stroke-width="0.7"/>
<clipPath id="k6"><rect x="150.7" y="411.38" width="4.2" height="5.92"/></clipPath>
<rect x="150.7" y="411.38" width="4.2" height="5.92" fill="#fff"/>
<path d="M150.2 421.9L155.4 417.3M150.2 417.3L155.4 421.9M150.2 417.4L155.4 412.8M150.2 412.8L155.4 417.4M150.2 412.9L155.4 408.3M150.2 408.3L155.4 412.9M150.2 408.4L155.4 403.8M150.2 403.8L155.4 408.4" stroke="#000" stroke-width="0.9" fill="none" clip-path="url(#k6)"/>
<rect x="150.7" y="411.38" width="4.2" height="5.92" fill="none" stroke="#1a1a1a" stroke-width="0.7"/>
<text x="145" y="433.2" font-size="9.0" font-weight="bold" text-anchor="middle" fill="#1a1a1a"  stroke="#1a1a1a" stroke-width="0.08">JON2</text>
<line x1="172.3" y1="331.77" x2="172.3" y2="315.94" stroke="#333" stroke-width="1.25" />
<line x1="169.5" y1="315.94" x2="175.1" y2="315.94" stroke="#333" stroke-width="1.25" />
<line x1="177.3" y1="395.56" x2="177.3" y2="383.31" stroke="#333" stroke-width="1.25" />
<line x1="174.5" y1="383.31" x2="180.1" y2="383.31" stroke="#333" stroke-width="1.25" />
<line x1="182.3" y1="408.32" x2="182.3" y2="406.79" stroke="#333" stroke-width="1.25" />
<line x1="179.5" y1="406.79" x2="185.1" y2="406.79" stroke="#333" stroke-width="1.25" />
<line x1="187.3" y1="412.91" x2="187.3" y2="412.4" stroke="#333" stroke-width="1.25" />
<line x1="184.5" y1="412.4" x2="190.1" y2="412.4" stroke="#333" stroke-width="1.25" />
<rect x="170.55" y="331.77" width="3.5" height="85.53" fill="#b4b4b4" stroke="#333" stroke-width="0.85"/>
<clipPath id="k7"><rect x="175.2" y="395.56" width="4.2" height="21.74"/></clipPath>
<rect x="175.2" y="395.56" width="4.2" height="21.74" fill="#fff"/>
<path d="M174.7 423L179.9 417.3M174.7 417.6L179.9 411.9M174.7 412.2L179.9 406.5M174.7 406.8L179.9 401.1M174.7 401.4L179.9 395.7M174.7 396L179.9 390.3M174.7 390.6L179.9 384.9" stroke="#000" stroke-width="1.35" fill="none" clip-path="url(#k7)"/>
<rect x="175.2" y="395.56" width="4.2" height="21.74" fill="none" stroke="#1a1a1a" stroke-width="0.7"/>
<clipPath id="k8"><rect x="180.2" y="408.32" width="4.2" height="8.98"/></clipPath>
<rect x="180.2" y="408.32" width="4.2" height="8.98" fill="#fff"/>
<path d="M179.7 417.3L184.9 423M179.7 411.9L184.9 417.6M179.7 406.5L184.9 412.2M179.7 401.1L184.9 406.8" stroke="#000" stroke-width="1.35" fill="none" clip-path="url(#k8)"/>
<rect x="180.2" y="408.32" width="4.2" height="8.98" fill="none" stroke="#1a1a1a" stroke-width="0.7"/>
<clipPath id="k9"><rect x="185.2" y="412.91" width="4.2" height="4.39"/></clipPath>
<rect x="185.2" y="412.91" width="4.2" height="4.39" fill="#fff"/>
<path d="M184.7 421.9L189.9 417.3M184.7 417.3L189.9 421.9M184.7 417.4L189.9 412.8M184.7 412.8L189.9 417.4M184.7 412.9L189.9 408.3M184.7 408.3L189.9 412.9M184.7 408.4L189.9 403.8M184.7 403.8L189.9 408.4" stroke="#000" stroke-width="0.9" fill="none" clip-path="url(#k9)"/>
<rect x="185.2" y="412.91" width="4.2" height="4.39" fill="none" stroke="#1a1a1a" stroke-width="0.7"/>
<text x="179.5" y="433.2" font-size="9.0" font-weight="bold" text-anchor="middle" fill="#1a1a1a"  stroke="#1a1a1a" stroke-width="0.08">p0p3</text>
<line x1="206.8" y1="344.52" x2="206.8" y2="326.15" stroke="#333" stroke-width="1.25" />
<line x1="204" y1="326.15" x2="209.6" y2="326.15" stroke="#333" stroke-width="1.25" />
<line x1="211.8" y1="398.11" x2="211.8" y2="386.88" stroke="#333" stroke-width="1.25" />
<line x1="209" y1="386.88" x2="214.6" y2="386.88" stroke="#333" stroke-width="1.25" />
<line x1="216.8" y1="410.36" x2="216.8" y2="409.34" stroke="#333" stroke-width="1.25" />
<line x1="214" y1="409.34" x2="219.6" y2="409.34" stroke="#333" stroke-width="1.25" />
<line x1="221.8" y1="411.89" x2="221.8" y2="411.38" stroke="#333" stroke-width="1.25" />
<line x1="219" y1="411.38" x2="224.6" y2="411.38" stroke="#333" stroke-width="1.25" />
<rect x="205.05" y="344.52" width="3.5" height="72.78" fill="#b4b4b4" stroke="#333" stroke-width="0.85"/>
<clipPath id="k10"><rect x="209.7" y="398.11" width="4.2" height="19.19"/></clipPath>
<rect x="209.7" y="398.11" width="4.2" height="19.19" fill="#fff"/>
<path d="M209.2 423L214.4 417.3M209.2 417.6L214.4 411.9M209.2 412.2L214.4 406.5M209.2 406.8L214.4 401.1M209.2 401.4L214.4 395.7M209.2 396L214.4 390.3" stroke="#000" stroke-width="1.35" fill="none" clip-path="url(#k10)"/>
<rect x="209.7" y="398.11" width="4.2" height="19.19" fill="none" stroke="#1a1a1a" stroke-width="0.7"/>
<clipPath id="k11"><rect x="214.7" y="410.36" width="4.2" height="6.94"/></clipPath>
<rect x="214.7" y="410.36" width="4.2" height="6.94" fill="#fff"/>
<path d="M214.2 417.3L219.4 423M214.2 411.9L219.4 417.6M214.2 406.5L219.4 412.2M214.2 401.1L219.4 406.8" stroke="#000" stroke-width="1.35" fill="none" clip-path="url(#k11)"/>
<rect x="214.7" y="410.36" width="4.2" height="6.94" fill="none" stroke="#1a1a1a" stroke-width="0.7"/>
<clipPath id="k12"><rect x="219.7" y="411.89" width="4.2" height="5.41"/></clipPath>
<rect x="219.7" y="411.89" width="4.2" height="5.41" fill="#fff"/>
<path d="M219.2 421.9L224.4 417.3M219.2 417.3L224.4 421.9M219.2 417.4L224.4 412.8M219.2 412.8L224.4 417.4M219.2 412.9L224.4 408.3M219.2 408.3L224.4 412.9M219.2 408.4L224.4 403.8M219.2 403.8L224.4 408.4" stroke="#000" stroke-width="0.9" fill="none" clip-path="url(#k12)"/>
<rect x="219.7" y="411.89" width="4.2" height="5.41" fill="none" stroke="#1a1a1a" stroke-width="0.7"/>
<text x="214" y="433.2" font-size="9.0" font-weight="bold" text-anchor="middle" fill="#1a1a1a"  stroke="#1a1a1a" stroke-width="0.08">p0p4</text>
<line x1="92.26" y1="440.44" x2="228.17" y2="440.44" stroke="#222" stroke-width="1.1" />
<text x="161.73" y="456.15" font-size="12.8" font-weight="bold" text-anchor="middle" fill="#111"  stroke="#111" stroke-width="0.08">IgG</text>
<text x="12.57" y="348.15" font-size="11.4" font-weight="bold" text-anchor="middle" fill="#111" transform="rotate(-90 12.57 348.15)"  stroke="#111" stroke-width="0.08">platelets/µL (x 10<tspan font-size="10.4" dy="-4.3">-6</tspan><tspan dy="4.3">)</tspan></text>
<text x="-0.16" y="271.33" font-size="24.5" font-weight="bold" text-anchor="start" fill="#111" stroke="#111" stroke-width="0.3">C</text>
<rect x="202.94" y="281.35" width="15.6" height="3.5" fill="#a8a8a8" stroke="#2a2a2a" stroke-width="1.1"/>
<text x="222.42" y="285.77" font-size="6.8" text-anchor="start" fill="#333"  stroke="#333" stroke-width="0.18">3 µg</text>
<clipPath id="k13"><rect x="202.86" y="291.35" width="15.6" height="3.5"/></clipPath>
<rect x="202.86" y="291.35" width="15.6" height="3.5" fill="#fff"/>
<path d="M199.66 295.35L203.86 290.85M204.36 295.35L208.56 290.85M209.06 295.35L213.26 290.85M213.76 295.35L217.96 290.85M218.46 295.35L222.66 290.85" stroke="#000" stroke-width="1.3" fill="none" clip-path="url(#k13)"/>
<rect x="202.86" y="291.35" width="15.6" height="3.5" fill="none" stroke="#1a1a1a" stroke-width="1.1"/>
<text x="222.33" y="295.77" font-size="6.8" text-anchor="start" fill="#333"  stroke="#333" stroke-width="0.18">10 µg</text>
<clipPath id="k14"><rect x="202.77" y="301.35" width="15.6" height="3.5"/></clipPath>
<rect x="202.77" y="301.35" width="15.6" height="3.5" fill="#fff"/>
<path d="M199.57 300.85L203.77 305.35M204.27 300.85L208.47 305.35M208.97 300.85L213.17 305.35M213.67 300.85L217.87 305.35M218.37 300.85L222.57 305.35" stroke="#000" stroke-width="1.3" fill="none" clip-path="url(#k14)"/>
<rect x="202.77" y="301.35" width="15.6" height="3.5" fill="none" stroke="#1a1a1a" stroke-width="1.1"/>
<text x="222.25" y="305.77" font-size="6.8" text-anchor="start" fill="#333"  stroke="#333" stroke-width="0.18">30 µg</text>
<clipPath id="k15"><rect x="202.68" y="311.35" width="15.6" height="3.5"/></clipPath>
<rect x="202.68" y="311.35" width="15.6" height="3.5" fill="#fff"/>
<path d="M198.68 315.35L203.18 310.85M198.68 310.85L203.18 315.35M202.98 315.35L207.48 310.85M202.98 310.85L207.48 315.35M207.28 315.35L211.78 310.85M207.28 310.85L211.78 315.35M211.58 315.35L216.08 310.85M211.58 310.85L216.08 315.35M215.88 315.35L220.38 310.85M215.88 310.85L220.38 315.35M220.18 315.35L224.68 310.85M220.18 310.85L224.68 315.35" stroke="#000" stroke-width="1.35" fill="none" clip-path="url(#k15)"/>
<rect x="202.68" y="311.35" width="15.6" height="3.5" fill="none" stroke="#1a1a1a" stroke-width="1.1"/>
<text x="222.16" y="315.77" font-size="6.8" text-anchor="start" fill="#333"  stroke="#333" stroke-width="0.18">100 µg</text>
<rect x="308" y="274.1" width="206.7" height="143.1" fill="none" stroke="#222" stroke-width="0.9"/>
<line x1="305.3" y1="417.2" x2="308" y2="417.2" stroke="#222" stroke-width="0.9" />
<text x="302.6" y="420.5" font-size="8.0" text-anchor="end" fill="#222"  stroke="#222" stroke-width="0.18">0,0</text>
<line x1="305.3" y1="366.1" x2="308" y2="366.1" stroke="#222" stroke-width="0.9" />
<text x="302.6" y="369.4" font-size="8.0" text-anchor="end" fill="#222"  stroke="#222" stroke-width="0.18">0,5</text>
<line x1="305.3" y1="315" x2="308" y2="315" stroke="#222" stroke-width="0.9" />
<text x="302.6" y="318.3" font-size="8.0" text-anchor="end" fill="#222"  stroke="#222" stroke-width="0.18">1,0</text>
<line x1="335.1" y1="306.31" x2="335.1" y2="289.96" stroke="#333" stroke-width="1.25" />
<line x1="332.3" y1="289.96" x2="337.9" y2="289.96" stroke="#333" stroke-width="1.25" />
<rect x="333.35" y="306.31" width="3.5" height="110.89" fill="#b4b4b4" stroke="#333" stroke-width="0.85"/>
<text x="335.4" y="432.9" font-size="9.0" font-weight="bold" text-anchor="middle" fill="#1a1a1a"  stroke="#1a1a1a" stroke-width="0.08">PBS</text>
<line x1="369.7" y1="304.78" x2="369.7" y2="291.49" stroke="#333" stroke-width="1.25" />
<line x1="366.9" y1="291.49" x2="372.5" y2="291.49" stroke="#333" stroke-width="1.25" />
<line x1="374.6" y1="302.22" x2="374.6" y2="286.38" stroke="#333" stroke-width="1.25" />
<line x1="371.8" y1="286.38" x2="377.4" y2="286.38" stroke="#333" stroke-width="1.25" />
<line x1="379.5" y1="310.91" x2="379.5" y2="302.53" stroke="#333" stroke-width="1.25" />
<line x1="376.7" y1="302.53" x2="382.3" y2="302.53" stroke="#333" stroke-width="1.25" />
<line x1="384.4" y1="318.07" x2="384.4" y2="306.62" stroke="#333" stroke-width="1.25" />
<line x1="381.6" y1="306.62" x2="387.2" y2="306.62" stroke="#333" stroke-width="1.25" />
<rect x="367.95" y="304.78" width="3.5" height="112.42" fill="#b4b4b4" stroke="#333" stroke-width="0.85"/>
<clipPath id="k16"><rect x="372.5" y="302.22" width="4.2" height="114.98"/></clipPath>
<rect x="372.5" y="302.22" width="4.2" height="114.98" fill="#fff"/>
<path d="M372 422.6L377.2 417.2M372 417.5L377.2 412.1M372 412.4L377.2 407M372 407.3L377.2 401.9M372 402.2L377.2 396.8M372 397.1L377.2 391.7M372 392L377.2 386.6M372 386.9L377.2 381.5M372 381.8L377.2 376.4M372 376.7L377.2 371.3M372 371.6L377.2 366.2M372 366.5L377.2 361.1M372 361.4L377.2 356M372 356.3L377.2 350.9M372 351.2L377.2 345.8M372 346.1L377.2 340.7M372 341L377.2 335.6M372 335.9L377.2 330.5M372 330.8L377.2 325.4M372 325.7L377.2 320.3M372 320.6L377.2 315.2M372 315.5L377.2 310.1M372 310.4L377.2 305M372 305.3L377.2 299.9M372 300.2L377.2 294.8" stroke="#000" stroke-width="1.15" fill="none" clip-path="url(#k16)"/>
<rect x="372.5" y="302.22" width="4.2" height="114.98" fill="none" stroke="#1a1a1a" stroke-width="0.7"/>
<clipPath id="k17"><rect x="377.4" y="310.91" width="4.2" height="106.29"/></clipPath>
<rect x="377.4" y="310.91" width="4.2" height="106.29" fill="#fff"/>
<path d="M376.9 417.2L382.1 422.6M376.9 412.1L382.1 417.5M376.9 407L382.1 412.4M376.9 401.9L382.1 407.3M376.9 396.8L382.1 402.2M376.9 391.7L382.1 397.1M376.9 386.6L382.1 392M376.9 381.5L382.1 386.9M376.9 376.4L382.1 381.8M376.9 371.3L382.1 376.7M376.9 366.2L382.1 371.6M376.9 361.1L382.1 366.5M376.9 356L382.1 361.4M376.9 350.9L382.1 356.3M376.9 345.8L382.1 351.2M376.9 340.7L382.1 346.1M376.9 335.6L382.1 341M376.9 330.5L382.1 335.9M376.9 325.4L382.1 330.8M376.9 320.3L382.1 325.7M376.9 315.2L382.1 320.6M376.9 310.1L382.1 315.5M376.9 305L382.1 310.4" stroke="#000" stroke-width="1.15" fill="none" clip-path="url(#k17)"/>
<rect x="377.4" y="310.91" width="4.2" height="106.29" fill="none" stroke="#1a1a1a" stroke-width="0.7"/>
<clipPath id="k18"><rect x="382.3" y="318.07" width="4.2" height="99.13"/></clipPath>
<rect x="382.3" y="318.07" width="4.2" height="99.13" fill="#fff"/>
<path d="M381.8 421.8L387 417.2M381.8 417.2L387 421.8M381.8 417.3L387 412.7M381.8 412.7L387 417.3M381.8 412.8L387 408.2M381.8 408.2L387 412.8M381.8 408.3L387 403.7M381.8 403.7L387 408.3M381.8 403.8L387 399.2M381.8 399.2L387 403.8M381.8 399.3L387 394.7M381.8 394.7L387 399.3M381.8 394.8L387 390.2M381.8 390.2L387 394.8M381.8 390.3L387 385.7M381.8 385.7L387 390.3M381.8 385.8L387 381.2M381.8 381.2L387 385.8M381.8 381.3L387 376.7M381.8 376.7L387 381.3M381.8 376.8L387 372.2M381.8 372.2L387 376.8M381.8 372.3L387 367.7M381.8 367.7L387 372.3M381.8 367.8L387 363.2M381.8 363.2L387 367.8M381.8 363.3L387 358.7M381.8 358.7L387 363.3M381.8 358.8L387 354.2M381.8 354.2L387 358.8M381.8 354.3L387 349.7M381.8 349.7L387 354.3M381.8 349.8L387 345.2M381.8 345.2L387 349.8M381.8 345.3L387 340.7M381.8 340.7L387 345.3M381.8 340.8L387 336.2M381.8 336.2L387 340.8M381.8 336.3L387 331.7M381.8 331.7L387 336.3M381.8 331.8L387 327.2M381.8 327.2L387 331.8M381.8 327.3L387 322.7M381.8 322.7L387 327.3M381.8 322.8L387 318.2M381.8 318.2L387 322.8M381.8 318.3L387 313.7M381.8 313.7L387 318.3M381.8 313.8L387 309.2M381.8 309.2L387 313.8" stroke="#000" stroke-width="0.9" fill="none" clip-path="url(#k18)"/>
<rect x="382.3" y="318.07" width="4.2" height="99.13" fill="none" stroke="#1a1a1a" stroke-width="0.7"/>
<text x="376.45" y="432.9" font-size="9.0" font-weight="bold" text-anchor="middle" fill="#1a1a1a"  stroke="#1a1a1a" stroke-width="0.08">JON1</text>
<line x1="404.3" y1="309.07" x2="404.3" y2="300.39" stroke="#333" stroke-width="1.25" />
<line x1="401.5" y1="300.39" x2="407.1" y2="300.39" stroke="#333" stroke-width="1.25" />
<line x1="409.2" y1="303.96" x2="409.2" y2="291.19" stroke="#333" stroke-width="1.25" />
<line x1="406.4" y1="291.19" x2="412" y2="291.19" stroke="#333" stroke-width="1.25" />
<line x1="414.1" y1="308.56" x2="414.1" y2="295.28" stroke="#333" stroke-width="1.25" />
<line x1="411.3" y1="295.28" x2="416.9" y2="295.28" stroke="#333" stroke-width="1.25" />
<line x1="419" y1="316.23" x2="419" y2="303.96" stroke="#333" stroke-width="1.25" />
<line x1="416.2" y1="303.96" x2="421.8" y2="303.96" stroke="#333" stroke-width="1.25" />
<rect x="402.55" y="309.07" width="3.5" height="108.13" fill="#b4b4b4" stroke="#333" stroke-width="0.85"/>
<clipPath id="k19"><rect x="407.1" y="303.96" width="4.2" height="113.24"/></clipPath>
<rect x="407.1" y="303.96" width="4.2" height="113.24" fill="#fff"/>
<path d="M406.6 422.6L411.8 417.2M406.6 417.5L411.8 412.1M406.6 412.4L411.8 407M406.6 407.3L411.8 401.9M406.6 402.2L411.8 396.8M406.6 397.1L411.8 391.7M406.6 392L411.8 386.6M406.6 386.9L411.8 381.5M406.6 381.8L411.8 376.4M406.6 376.7L411.8 371.3M406.6 371.6L411.8 366.2M406.6 366.5L411.8 361.1M406.6 361.4L411.8 356M406.6 356.3L411.8 350.9M406.6 351.2L411.8 345.8M406.6 346.1L411.8 340.7M406.6 341L411.8 335.6M406.6 335.9L411.8 330.5M406.6 330.8L411.8 325.4M406.6 325.7L411.8 320.3M406.6 320.6L411.8 315.2M406.6 315.5L411.8 310.1M406.6 310.4L411.8 305M406.6 305.3L411.8 299.9M406.6 300.2L411.8 294.8" stroke="#000" stroke-width="1.15" fill="none" clip-path="url(#k19)"/>
<rect x="407.1" y="303.96" width="4.2" height="113.24" fill="none" stroke="#1a1a1a" stroke-width="0.7"/>
<clipPath id="k20"><rect x="412" y="308.56" width="4.2" height="108.64"/></clipPath>
<rect x="412" y="308.56" width="4.2" height="108.64" fill="#fff"/>
<path d="M411.5 417.2L416.7 422.6M411.5 412.1L416.7 417.5M411.5 407L416.7 412.4M411.5 401.9L416.7 407.3M411.5 396.8L416.7 402.2M411.5 391.7L416.7 397.1M411.5 386.6L416.7 392M411.5 381.5L416.7 386.9M411.5 376.4L416.7 381.8M411.5 371.3L416.7 376.7M411.5 366.2L416.7 371.6M411.5 361.1L416.7 366.5M411.5 356L416.7 361.4M411.5 350.9L416.7 356.3M411.5 345.8L416.7 351.2M411.5 340.7L416.7 346.1M411.5 335.6L416.7 341M411.5 330.5L416.7 335.9M411.5 325.4L416.7 330.8M411.5 320.3L416.7 325.7M411.5 315.2L416.7 320.6M411.5 310.1L416.7 315.5M411.5 305L416.7 310.4M411.5 299.9L416.7 305.3" stroke="#000" stroke-width="1.15" fill="none" clip-path="url(#k20)"/>
<rect x="412" y="308.56" width="4.2" height="108.64" fill="none" stroke="#1a1a1a" stroke-width="0.7"/>
<clipPath id="k21"><rect x="416.9" y="316.23" width="4.2" height="100.97"/></clipPath>
<rect x="416.9" y="316.23" width="4.2" height="100.97" fill="#fff"/>
<path d="M416.4 421.8L421.6 417.2M416.4 417.2L421.6 421.8M416.4 417.3L421.6 412.7M416.4 412.7L421.6 417.3M416.4 412.8L421.6 408.2M416.4 408.2L421.6 412.8M416.4 408.3L421.6 403.7M416.4 403.7L421.6 408.3M416.4 403.8L421.6 399.2M416.4 399.2L421.6 403.8M416.4 399.3L421.6 394.7M416.4 394.7L421.6 399.3M416.4 394.8L421.6 390.2M416.4 390.2L421.6 394.8M416.4 390.3L421.6 385.7M416.4 385.7L421.6 390.3M416.4 385.8L421.6 381.2M416.4 381.2L421.6 385.8M416.4 381.3L421.6 376.7M416.4 376.7L421.6 381.3M416.4 376.8L421.6 372.2M416.4 372.2L421.6 376.8M416.4 372.3L421.6 367.7M416.4 367.7L421.6 372.3M416.4 367.8L421.6 363.2M416.4 363.2L421.6 367.8M416.4 363.3L421.6 358.7M416.4 358.7L421.6 363.3M416.4 358.8L421.6 354.2M416.4 354.2L421.6 358.8M416.4 354.3L421.6 349.7M416.4 349.7L421.6 354.3M416.4 349.8L421.6 345.2M416.4 345.2L421.6 349.8M416.4 345.3L421.6 340.7M416.4 340.7L421.6 345.3M416.4 340.8L421.6 336.2M416.4 336.2L421.6 340.8M416.4 336.3L421.6 331.7M416.4 331.7L421.6 336.3M416.4 331.8L421.6 327.2M416.4 327.2L421.6 331.8M416.4 327.3L421.6 322.7M416.4 322.7L421.6 327.3M416.4 322.8L421.6 318.2M416.4 318.2L421.6 322.8M416.4 318.3L421.6 313.7M416.4 313.7L421.6 318.3M416.4 313.8L421.6 309.2M416.4 309.2L421.6 313.8" stroke="#000" stroke-width="0.9" fill="none" clip-path="url(#k21)"/>
<rect x="416.9" y="316.23" width="4.2" height="100.97" fill="none" stroke="#1a1a1a" stroke-width="0.7"/>
<text x="411.05" y="432.9" font-size="9.0" font-weight="bold" text-anchor="middle" fill="#1a1a1a"  stroke="#1a1a1a" stroke-width="0.08">JON2</text>
<line x1="438.9" y1="326.96" x2="438.9" y2="317.25" stroke="#333" stroke-width="1.25" />
<line x1="436.1" y1="317.25" x2="441.7" y2="317.25" stroke="#333" stroke-width="1.25" />
<line x1="443.8" y1="374.99" x2="443.8" y2="355.57" stroke="#333" stroke-width="1.25" />
<line x1="441" y1="355.57" x2="446.6" y2="355.57" stroke="#333" stroke-width="1.25" />
<line x1="448.7" y1="403.61" x2="448.7" y2="401.05" stroke="#333" stroke-width="1.25" />
<line x1="445.9" y1="401.05" x2="451.5" y2="401.05" stroke="#333" stroke-width="1.25" />
<line x1="453.6" y1="414.34" x2="453.6" y2="410.76" stroke="#333" stroke-width="1.25" />
<line x1="450.8" y1="410.76" x2="456.4" y2="410.76" stroke="#333" stroke-width="1.25" />
<rect x="437.15" y="326.96" width="3.5" height="90.24" fill="#b4b4b4" stroke="#333" stroke-width="0.85"/>
<clipPath id="k22"><rect x="441.7" y="374.99" width="4.2" height="42.21"/></clipPath>
<rect x="441.7" y="374.99" width="4.2" height="42.21" fill="#fff"/>
<path d="M441.2 422.6L446.4 417.2M441.2 417.5L446.4 412.1M441.2 412.4L446.4 407M441.2 407.3L446.4 401.9M441.2 402.2L446.4 396.8M441.2 397.1L446.4 391.7M441.2 392L446.4 386.6M441.2 386.9L446.4 381.5M441.2 381.8L446.4 376.4M441.2 376.7L446.4 371.3M441.2 371.6L446.4 366.2" stroke="#000" stroke-width="1.15" fill="none" clip-path="url(#k22)"/>
<rect x="441.7" y="374.99" width="4.2" height="42.21" fill="none" stroke="#1a1a1a" stroke-width="0.7"/>
<clipPath id="k23"><rect x="446.6" y="403.61" width="4.2" height="13.59"/></clipPath>
<rect x="446.6" y="403.61" width="4.2" height="13.59" fill="#fff"/>
<path d="M446.1 417.2L451.3 422.6M446.1 412.1L451.3 417.5M446.1 407L451.3 412.4M446.1 401.9L451.3 407.3M446.1 396.8L451.3 402.2" stroke="#000" stroke-width="1.15" fill="none" clip-path="url(#k23)"/>
<rect x="446.6" y="403.61" width="4.2" height="13.59" fill="none" stroke="#1a1a1a" stroke-width="0.7"/>
<clipPath id="k24"><rect x="451.5" y="414.34" width="4.2" height="2.86"/></clipPath>
<rect x="451.5" y="414.34" width="4.2" height="2.86" fill="#fff"/>
<path d="M451 421.8L456.2 417.2M451 417.2L456.2 421.8M451 417.3L456.2 412.7M451 412.7L456.2 417.3M451 412.8L456.2 408.2M451 408.2L456.2 412.8" stroke="#000" stroke-width="0.9" fill="none" clip-path="url(#k24)"/>
<rect x="451.5" y="414.34" width="4.2" height="2.86" fill="none" stroke="#1a1a1a" stroke-width="0.7"/>
<text x="445.65" y="432.9" font-size="9.0" font-weight="bold" text-anchor="middle" fill="#1a1a1a"  stroke="#1a1a1a" stroke-width="0.08">p0p3</text>
<line x1="473.5" y1="337.18" x2="473.5" y2="322.36" stroke="#333" stroke-width="1.25" />
<line x1="470.7" y1="322.36" x2="476.3" y2="322.36" stroke="#333" stroke-width="1.25" />
<line x1="478.4" y1="387.26" x2="478.4" y2="366.82" stroke="#333" stroke-width="1.25" />
<line x1="475.6" y1="366.82" x2="481.2" y2="366.82" stroke="#333" stroke-width="1.25" />
<line x1="483.3" y1="408.72" x2="483.3" y2="406.67" stroke="#333" stroke-width="1.25" />
<line x1="480.5" y1="406.67" x2="486.1" y2="406.67" stroke="#333" stroke-width="1.25" />
<line x1="488.2" y1="412.81" x2="488.2" y2="410.25" stroke="#333" stroke-width="1.25" />
<line x1="485.4" y1="410.25" x2="491" y2="410.25" stroke="#333" stroke-width="1.25" />
<rect x="471.75" y="337.18" width="3.5" height="80.02" fill="#b4b4b4" stroke="#333" stroke-width="0.85"/>
<clipPath id="k25"><rect x="476.3" y="387.26" width="4.2" height="29.94"/></clipPath>
<rect x="476.3" y="387.26" width="4.2" height="29.94" fill="#fff"/>
<path d="M475.8 422.6L481 417.2M475.8 417.5L481 412.1M475.8 412.4L481 407M475.8 407.3L481 401.9M475.8 402.2L481 396.8M475.8 397.1L481 391.7M475.8 392L481 386.6M475.8 386.9L481 381.5" stroke="#000" stroke-width="1.15" fill="none" clip-path="url(#k25)"/>
<rect x="476.3" y="387.26" width="4.2" height="29.94" fill="none" stroke="#1a1a1a" stroke-width="0.7"/>
<clipPath id="k26"><rect x="481.2" y="408.72" width="4.2" height="8.48"/></clipPath>
<rect x="481.2" y="408.72" width="4.2" height="8.48" fill="#fff"/>
<path d="M480.7 417.2L485.9 422.6M480.7 412.1L485.9 417.5M480.7 407L485.9 412.4M480.7 401.9L485.9 407.3" stroke="#000" stroke-width="1.15" fill="none" clip-path="url(#k26)"/>
<rect x="481.2" y="408.72" width="4.2" height="8.48" fill="none" stroke="#1a1a1a" stroke-width="0.7"/>
<clipPath id="k27"><rect x="486.1" y="412.81" width="4.2" height="4.39"/></clipPath>
<rect x="486.1" y="412.81" width="4.2" height="4.39" fill="#fff"/>
<path d="M485.6 421.8L490.8 417.2M485.6 417.2L490.8 421.8M485.6 417.3L490.8 412.7M485.6 412.7L490.8 417.3M485.6 412.8L490.8 408.2M485.6 408.2L490.8 412.8M485.6 408.3L490.8 403.7M485.6 403.7L490.8 408.3" stroke="#000" stroke-width="0.9" fill="none" clip-path="url(#k27)"/>
<rect x="486.1" y="412.81" width="4.2" height="4.39" fill="none" stroke="#1a1a1a" stroke-width="0.7"/>
<text x="480.25" y="432.9" font-size="9.0" font-weight="bold" text-anchor="middle" fill="#1a1a1a"  stroke="#1a1a1a" stroke-width="0.08">p0p4</text>
<line x1="362.28" y1="439.77" x2="493.99" y2="439.77" stroke="#222" stroke-width="1.1" />
<text x="415.03" y="456.86" font-size="12.7" font-weight="bold" text-anchor="start" fill="#111"  stroke="#111" stroke-width="0.08">F(ab)<tspan font-size="10">2</tspan></text>
<text x="282.58" y="348.4" font-size="11.4" font-weight="bold" text-anchor="middle" fill="#111" transform="rotate(-90 282.58 348.4)"  stroke="#111" stroke-width="0.08">platelets/µL (x 10<tspan font-size="10.4" dy="-4.3">-6</tspan><tspan dy="4.3">)</tspan></text>
<text x="268.83" y="273.28" font-size="24.5" font-weight="bold" text-anchor="start" fill="#111" stroke="#111" stroke-width="0.3">D</text>
</g></g>
</svg>
</body></html>
